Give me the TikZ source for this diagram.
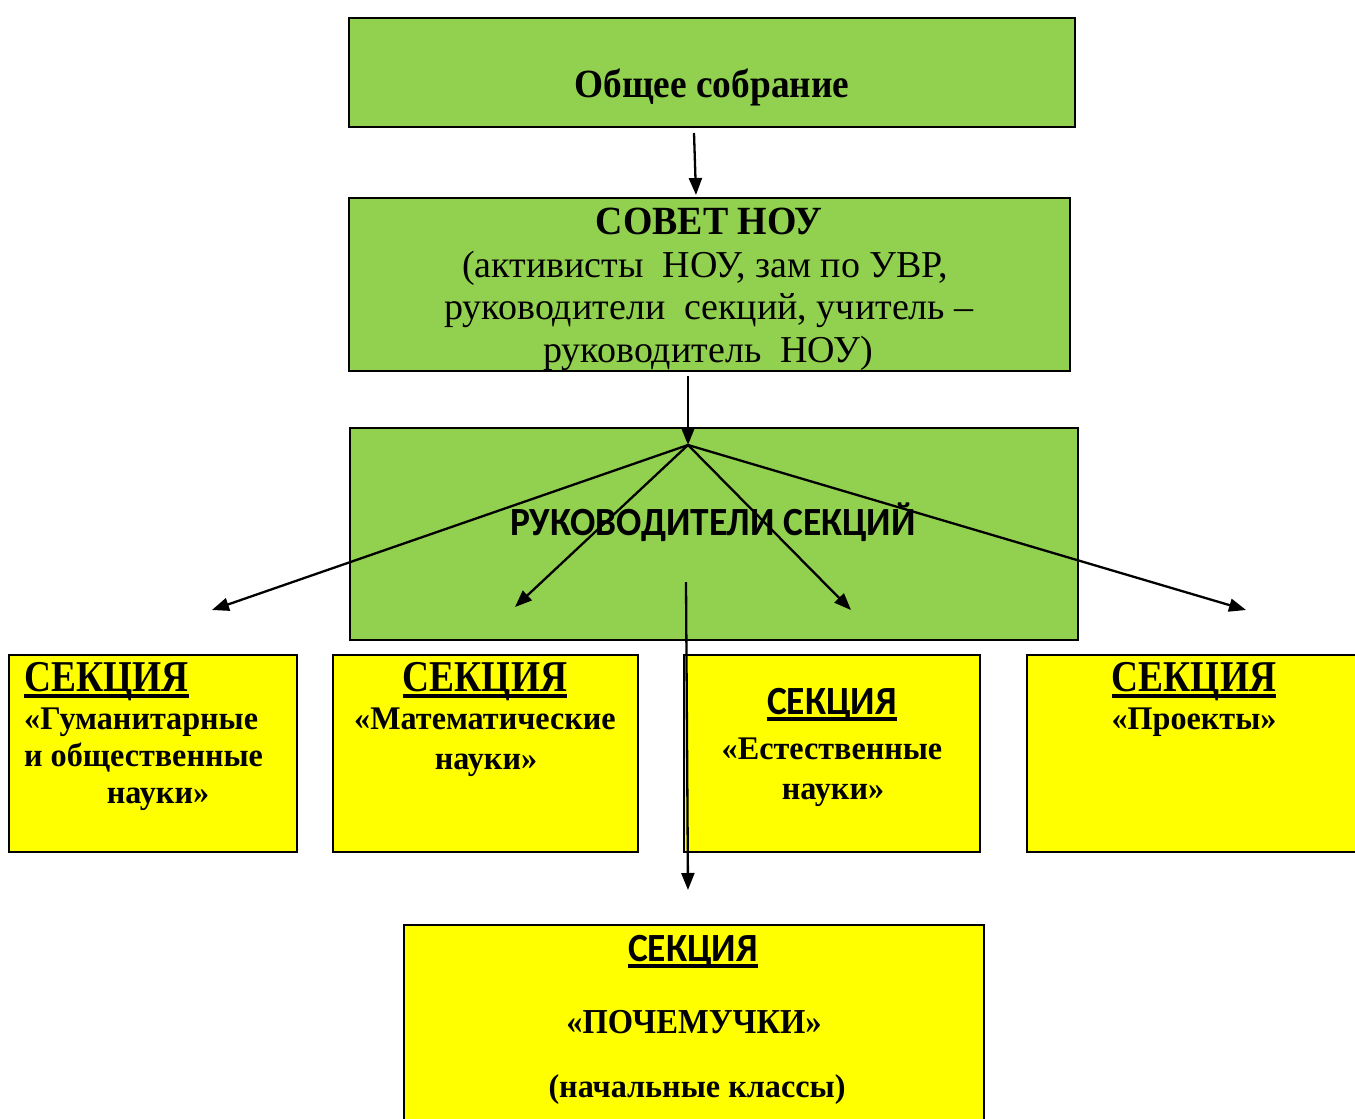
\documentclass[tikz,border=0pt]{standalone}
\usepackage{fontspec}
\setmainfont{Liberation Serif}
\usetikzlibrary{arrows.meta}
\definecolor{boxgreen}{HTML}{92D050}
\definecolor{boxyellow}{HTML}{FFFF00}
\newcommand\TNR[2]{\fontspec[FakeStretch=#1]{Liberation Serif}\fontsize{#2}{#2}\selectfont}
\newcommand\CAL[2]{\fontspec[FakeStretch=#1]{Carlito}\fontsize{#2}{#2}\selectfont}
\tikzset{
  gbox/.style={draw=black, line width=2.2pt, fill=boxgreen},
  ybox/.style={draw=black, line width=2.2pt, fill=boxyellow},
  txt/.style={anchor=base, inner sep=0pt, text=black},
  conn/.style={line width=2.3pt, -{Triangle[length=17pt,width=13pt]}},
  uline/.style={line width=4pt}
}
\begin{document}
\begin{tikzpicture}[x=1pt,y=-1pt]
\useasboundingbox (0,0) rectangle (1355,1119);
\fill[white] (0,0) rectangle (1355,1119);
% boxes
\path[gbox] (349,18) rectangle (1075,127);
\path[gbox] (349,198) rectangle (1070,371);
\path[gbox] (350,428) rectangle (1078,640);
\coordinate (hub) at (688,445);
\path[ybox] (9,655) rectangle (297,852);
\path[ybox] (333,655) rectangle (638,852);
\path[ybox] (684,655) rectangle (980,852);
\path[ybox] (1027,655) rectangle (1362,852);
\path[ybox] (404,925) rectangle (984,1130);
% texts
\node[txt] (t1) at (712,97) {\TNR{0.934}{40}\bfseries Общее собрание};
\node[txt] (t2a) at (709,234) {\TNR{0.946}{40}\bfseries СОВЕТ НОУ};
\node[txt] (t2b) at (705,277) {\TNR{1.0}{38}(активисты\ \ НОУ, зам по УВР,};
\node[txt] (t2c) at (709,319) {\TNR{1.0}{38}руководители\ \ секций, учитель –};
\node[txt] (t2d) at (708,362) {\TNR{1.0}{38}руководитель\ \ НОУ)};
\node[txt] (t3) at (713,535) {\CAL{0.935}{40}\bfseries РУКОВОДИТЕЛИ СЕКЦИЙ};
% A
\node[txt,anchor=base west] (ta1) at (24,691) {\TNR{0.85}{44}\bfseries СЕКЦИЯ};
\node[txt,anchor=base west] (ta2) at (24,729) {\TNR{0.975}{33}\bfseries «Гуманитарные};
\node[txt,anchor=base west] (ta3) at (24,766) {\TNR{0.975}{33}\bfseries и общественные};
\node[txt] (ta4) at (158,803) {\TNR{0.975}{33}\bfseries науки»};
% B
\node[txt] (tb1) at (485,691) {\TNR{0.85}{44}\bfseries СЕКЦИЯ};
\node[txt] (tb2) at (485,729) {\TNR{0.975}{33}\bfseries «Математические};
\node[txt] (tb3) at (486,769) {\TNR{0.975}{33}\bfseries науки»};
% C
\node[txt] (tc1) at (832,714) {\CAL{0.936}{40}\bfseries СЕКЦИЯ};
\node[txt] (tc2) at (832,759) {\TNR{0.975}{33}\bfseries «Естественные};
\node[txt] (tc3) at (833,799) {\TNR{0.975}{33}\bfseries науки»};
% D
\node[txt] (td1) at (1194,691) {\TNR{0.85}{44}\bfseries СЕКЦИЯ};
\node[txt] (td2) at (1194,729) {\TNR{0.975}{33}\bfseries «Проекты»};
% E
\node[txt] (te1) at (693,961) {\CAL{0.936}{40}\bfseries СЕКЦИЯ};
\node[txt] (te2) at (694,1033) {\TNR{0.93}{35}\bfseries «ПОЧЕМУЧКИ»};
\node[txt] (te3) at (697,1097) {\TNR{0.976}{33}\bfseries (начальные классы)};
% underlines
\foreach \n in {ta1,tb1,td1}
  \draw[uline] ([yshift=-5pt]\n.base west) -- ([yshift=-5pt]\n.base east);
\foreach \n in {tc1,te1}
  \draw[uline] ([yshift=-5pt]\n.base west) -- ([yshift=-5pt]\n.base east);
% connectors
\coordinate (s1) at (694,133);
\coordinate (e1) at (696,195);
\draw[conn] (s1) -- (e1);
\coordinate (s2) at (688,376);
\draw[conn] (s2) -- (hub);
\coordinate (ea) at (212,610);
\coordinate (eb) at (515,607);
\coordinate (ec) at (851,610);
\coordinate (ed) at (1246,610);
\draw[conn] (hub) -- (ea);
\draw[conn] (hub) -- (eb);
\draw[conn] (hub) -- (ec);
\draw[conn] (hub) -- (ed);
\coordinate (s3) at (686,582);
\coordinate (e3) at (688,890);
\draw[conn] (s3) -- (e3);
\end{tikzpicture}
\end{document}
